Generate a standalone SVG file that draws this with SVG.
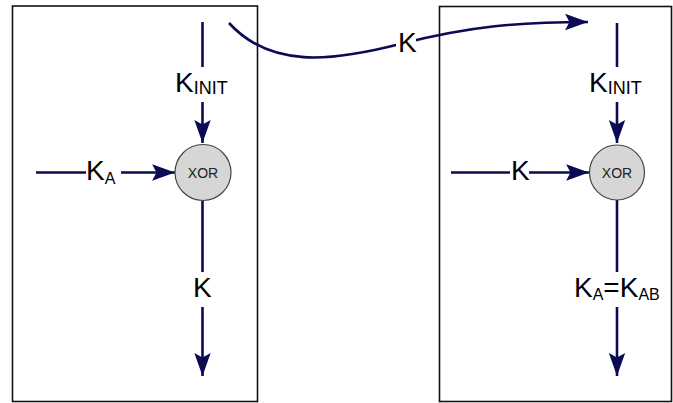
<svg xmlns="http://www.w3.org/2000/svg" width="673" height="403" viewBox="0 0 673 403">
<defs>
<marker id="arr" markerUnits="userSpaceOnUse" markerWidth="24" markerHeight="18" viewBox="-21 -8 22 16" refX="0" refY="0" orient="auto">
<path d="M0,0 L-21,-7.5 L-17,0 L-21,7.5 Z" fill="#0a0a55"/>
</marker>
</defs>
<style>
.box{fill:#fff;stroke:#111;stroke-width:1.6}
.ln{fill:none;stroke:#0a0a55;stroke-width:2.6}
.lb{font-family:"Liberation Sans",Arial,sans-serif;font-size:28px;fill:#000}
.sb{font-size:18px}
.sa{font-size:16px}
.node{fill:#d6d6d6;stroke:#444;stroke-width:1.2}
.xt{font-family:"Liberation Sans",Arial,sans-serif;font-size:14px;fill:#222;text-anchor:middle}
</style>
<rect width="673" height="403" fill="#fff"/>
<g id="boxA"><rect class="box" x="12.5" y="6" width="245" height="395.5"/></g>
<g id="boxB"><rect class="box" x="439.5" y="6.5" width="232" height="395"/></g>
<g id="connectors">
<path class="ln" d="M229,23 C270,68 330,62 400,44 C470,26 520,22 588,22" marker-end="url(#arr)"/>
<rect x="396" y="29" width="20" height="26" fill="#fff"/>
<line class="ln" x1="202.5" y1="22" x2="202.5" y2="67"/>
<line class="ln" x1="202.5" y1="102" x2="202.5" y2="143" marker-end="url(#arr)"/>
<line class="ln" x1="36" y1="172.5" x2="86" y2="172.5"/>
<line class="ln" x1="121" y1="172.5" x2="175" y2="172.5" marker-end="url(#arr)"/>
<line class="ln" x1="202.5" y1="201" x2="202.5" y2="272"/>
<line class="ln" x1="202.5" y1="307" x2="202.5" y2="376" marker-end="url(#arr)"/>
<line class="ln" x1="617" y1="23" x2="617" y2="67"/>
<line class="ln" x1="617" y1="102" x2="617" y2="143" marker-end="url(#arr)"/>
<line class="ln" x1="451" y1="172.5" x2="510" y2="172.5"/>
<line class="ln" x1="529" y1="172.5" x2="589" y2="172.5" marker-end="url(#arr)"/>
<line class="ln" x1="617" y1="200" x2="617" y2="272"/>
<line class="ln" x1="617" y1="307" x2="617" y2="376" marker-end="url(#arr)"/>
</g>
<g id="xorA"><circle class="node" cx="203" cy="172.5" r="28"/><text class="xt" x="203" y="177.5">XOR</text></g>
<g id="xorB"><circle class="node" cx="617" cy="172.5" r="27.5"/><text class="xt" x="617" y="177.5">XOR</text></g>
<g id="labels">
<text class="lb" x="398" y="52">K</text>
<text class="lb" x="175" y="92">K<tspan class="sb" dy="2">INIT</tspan></text>
<text class="lb" x="589" y="92">K<tspan class="sb" dy="2">INIT</tspan></text>
<text class="lb" x="86" y="180">K<tspan class="sa" dy="4">A</tspan></text>
<text class="lb" x="511" y="180">K</text>
<text class="lb" x="193" y="297">K</text>
<text class="lb" x="574" y="297">K<tspan class="sa" dy="3">A</tspan><tspan dy="-3">=</tspan>K<tspan class="sa" dy="3">AB</tspan></text>
</g>
</svg>
